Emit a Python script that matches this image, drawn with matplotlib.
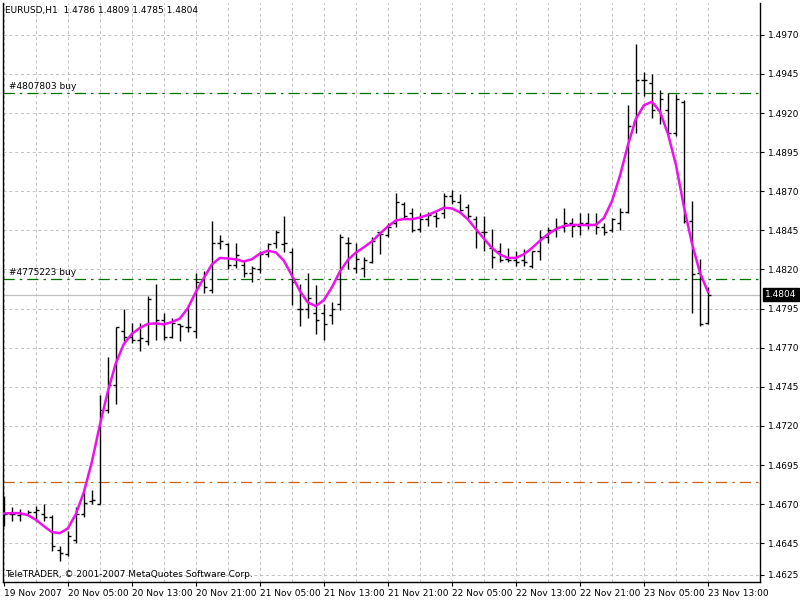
import numpy as np
import matplotlib
matplotlib.use("Agg")
import matplotlib.pyplot as plt

opens = [1.4661,1.4664,1.4663,1.4664,1.4665,1.4664,1.4662,1.4641,1.4638,1.4647,
         1.4664,1.4672,1.4670,1.4730,1.4746,1.4781,1.4777,1.4775,1.4774,1.4786,
         1.4788,1.4777,1.4785,1.4783,1.4781,1.4813,1.4807,1.4837,1.4836,1.4823,
         1.4823,1.4818,1.4820,1.4830,1.4837,1.4836,1.4831,1.4795,1.4795,1.4792,
         1.4792,1.4791,1.4798,1.4837,1.4821,1.4821,1.4825,1.4844,1.4842,1.4850,
         1.4862,1.4856,1.4846,1.4852,1.4854,1.4856,1.4867,1.4863,1.4860,1.4852,
         1.4844,1.4834,1.4832,1.4827,1.4826,1.4826,1.4822,1.4832,1.4841,1.4845,
         1.4847,1.4850,1.4848,1.4850,1.4849,1.4847,1.4845,1.4850,1.4857,1.4914,
         1.4941,1.4939,1.4922,1.4922,1.4907,1.4927,1.4851,1.4818,1.4786]
highs = [1.4675,1.4668,1.4667,1.4666,1.4669,1.4670,1.4663,1.4643,1.4653,1.4668,
         1.4677,1.4679,1.4740,1.4764,1.4783,1.4795,1.4786,1.4786,1.4803,1.4811,
         1.4792,1.4789,1.4785,1.4797,1.4818,1.4819,1.4851,1.4842,1.4837,1.4837,
         1.4826,1.4822,1.4832,1.4837,1.4845,1.4854,1.4834,1.4811,1.4818,1.4810,
         1.4798,1.4799,1.4843,1.4841,1.4837,1.4828,1.4841,1.4844,1.4850,1.4869,
         1.4863,1.4859,1.4856,1.4857,1.4857,1.4869,1.4871,1.4868,1.4862,1.4854,
         1.4854,1.4846,1.4837,1.4834,1.4832,1.4833,1.4832,1.4845,1.4847,1.4853,
         1.4859,1.4853,1.4856,1.4856,1.4856,1.4850,1.4853,1.4859,1.4925,1.4964,
         1.4946,1.4945,1.4935,1.4933,1.4932,1.4928,1.4864,1.4827,1.4809]
lows = [1.4656,1.4659,1.4659,1.4663,1.4659,1.4659,1.4640,1.4634,1.4637,1.4645,
        1.4662,1.4670,1.4670,1.4728,1.4734,1.4774,1.4773,1.4768,1.4772,1.4775,
        1.4775,1.4776,1.4774,1.4780,1.4776,1.4805,1.4805,1.4833,1.4820,1.4821,
        1.4815,1.4812,1.4818,1.4828,1.4834,1.4831,1.4797,1.4784,1.4789,1.4779,
        1.4775,1.4785,1.4794,1.4820,1.4818,1.4815,1.4824,1.4830,1.4841,1.4847,
        1.4852,1.4844,1.4844,1.4848,1.4847,1.4853,1.4862,1.4856,1.4852,1.4834,
        1.4832,1.4821,1.4825,1.4825,1.4822,1.4822,1.4821,1.4826,1.4837,1.4841,
        1.4844,1.4841,1.4842,1.4846,1.4843,1.4842,1.4844,1.4845,1.4856,1.4907,
        1.4931,1.4917,1.4913,1.4905,1.4905,1.4850,1.4792,1.4784,1.4785]
closes = [1.4664,1.4664,1.4664,1.4665,1.4666,1.4662,1.4643,1.4639,1.4650,1.4664,
          1.4671,1.4673,1.4730,1.4746,1.4783,1.4777,1.4775,1.4776,1.4801,1.4788,
          1.4777,1.4786,1.4784,1.4783,1.4812,1.4809,1.4837,1.4838,1.4823,1.4829,
          1.4818,1.4821,1.4830,1.4836,1.4844,1.4837,1.4812,1.4795,1.4802,1.4788,
          1.4785,1.4795,1.4841,1.4837,1.4827,1.4826,1.4838,1.4843,1.4847,1.4863,
          1.4854,1.4845,1.4852,1.4855,1.4853,1.4867,1.4864,1.4858,1.4854,1.4844,
          1.4844,1.4828,1.4826,1.4826,1.4825,1.4825,1.4832,1.4841,1.4845,1.4847,
          1.4850,1.4848,1.4850,1.4849,1.4847,1.4844,1.4852,1.4857,1.4912,1.4941,
          1.4941,1.4922,1.4929,1.4907,1.4929,1.4851,1.4817,1.4785,1.4804]

x_labels = ["19 Nov 2007","20 Nov 05:00","20 Nov 13:00","20 Nov 21:00","21 Nov 05:00",
            "21 Nov 13:00","21 Nov 21:00","22 Nov 05:00","22 Nov 13:00","22 Nov 21:00",
            "23 Nov 05:00","23 Nov 13:00"]
order_lines = [1.4933, 1.4814]
order_names = ["#4807803 buy", "#4775223 buy"]
orange_level = 1.4684
bid = 1.4804
y_ticks = [1.4625,1.4645,1.4670,1.4695,1.4720,1.4745,1.4770,1.4795,1.4820,1.4845,
           1.4870,1.4895,1.4920,1.4945,1.4970]
y_tick_labels = ["1.4625","1.4645","1.4670","1.4695","1.4720","1.4745","1.4770","1.4795",
                 "1.4820","1.4845","1.4870","1.4895","1.4920","1.4945","1.4970"]

n = len(closes)
xs = np.arange(n)
c = np.array(closes)
hw = 3
ma = []
for i in range(n):
    num = den = 0.0
    for j in range(max(0, i-hw), min(n, i+hw+1)):
        w = hw + 1 - abs(i-j)
        num += w*c[j]; den += w
    ma.append(num/den)

fig = plt.figure(figsize=(8, 6), dpi=100)
ax = fig.add_axes([3/800, 18/600, 757/800, 579/600])
ax.set_xlim(-0.09, 94.5)
ax.set_ylim(1.46203, 1.49903)

gc = '#c0c0c0'
for gx in range(0, n, 4):
    ax.axvline(gx, color=gc, lw=0.7, ls=(0, (3, 3)), zorder=0)
for gy in y_ticks:
    ax.axhline(gy, color=gc, lw=0.7, ls=(0, (3, 3)), zorder=0)

ax.axhline(bid, color='#c0c0c0', lw=0.9, zorder=1)
for lvl, nm in zip(order_lines, order_names):
    ax.axhline(lvl, color='#007000', lw=0.9, ls=(0, (9, 4, 2, 4)), zorder=1)
    ax.text(0.6, lvl + 0.00012, nm, fontsize=6.5, va='bottom', ha='left', color='black')
ax.axhline(orange_level, color='#d06010', lw=0.9, ls=(0, (9, 4, 2, 4)), zorder=1)

t = 0.4
ax.vlines(xs, lows, highs, color='black', lw=1.0, zorder=3)
ax.hlines(opens, xs - t, xs, color='black', lw=1.0, zorder=3)
ax.hlines(closes, xs, xs + t, color='black', lw=1.0, zorder=3)
ax.plot(xs, ma, color='#ee11ee', lw=1.8, zorder=4)

ax.yaxis.tick_right()
ax.set_yticks(y_ticks)
ax.set_yticklabels(y_tick_labels, fontsize=6.5)
ax.tick_params(axis='y', length=3, width=0.8, pad=3)
ax.set_xticks(list(range(0, n, 8)))
ax.set_xticklabels(x_labels, fontsize=6.5, ha='left')
ax.tick_params(axis='x', length=3, width=0.8, pad=2)
ax.spines['top'].set_visible(False)
for s in ['left', 'right', 'bottom']:
    ax.spines[s].set_linewidth(1.0)

ax.text(1.007, bid, "1.4804", transform=ax.get_yaxis_transform(), fontsize=6.5,
        color='white', va='center', ha='left',
        bbox=dict(boxstyle='square,pad=0.25', fc='black', ec='black'))
ax.text(0.003, 0.995, "EURUSD,H1  1.4786 1.4809 1.4785 1.4804", transform=ax.transAxes,
        fontsize=6.5, va='top', ha='left')
ax.text(0.003, 0.005, "TeleTRADER, © 2001-2007 MetaQuotes Software Corp.",
        transform=ax.transAxes, fontsize=6.5, va='bottom', ha='left')

fig.savefig("out.png", dpi=100, facecolor='white')
